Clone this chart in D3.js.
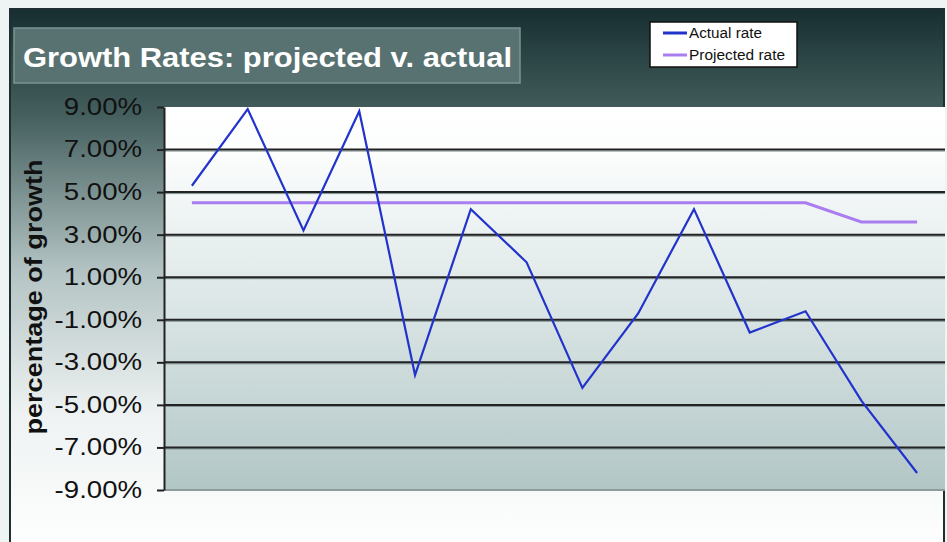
<!DOCTYPE html>
<html>
<head>
<meta charset="utf-8">
<script src="https://cdn.jsdelivr.net/npm/d3@7"></script>
<style>
  html, body { margin: 0; padding: 0; background: #fff; }
  svg { display: block; font-family: "Liberation Sans", Arial, sans-serif; }
</style>
</head>
<body>
<svg id="chart"></svg>
<script>
// data (percent growth per period)
var periods = [1, 2, 3, 4, 5, 6, 7, 8, 9, 10, 11, 12, 13, 14];
var actualRate = [5.3, 8.9, 3.2, 8.8, -3.6, 4.2, 1.7, -4.2, -0.7, 4.2, -1.6, -0.6, -4.8, -8.2];
var projectedRate = [4.5, 4.5, 4.5, 4.5, 4.5, 4.5, 4.5, 4.5, 4.5, 4.5, 4.5, 4.5, 3.6, 3.6];
var yTicks = [9, 7, 5, 3, 1, -1, -3, -5, -7, -9];
var seriesNames = ["Actual rate", "Projected rate"];
var seriesColors = ["#2233cc", "#a97ef0"];

var width = 947
  , height = 542
  , plot = { left: 164, top: 107, right: 945, bottom: 490 }
;

var svg = d3.select("#chart")
    .attr("width", width)
    .attr("height", height)
;

var defs = svg.append("defs");

var outerGrad = defs.append("linearGradient")
    .attr("id", "outerGrad")
    .attr("x1", 0).attr("y1", 0).attr("x2", 0).attr("y2", 1)
;
[[0, "#172e30"], [0.2, "#45605f"], [0.48, "#b2c2c2"], [0.75, "#eef2f2"], [1, "#ffffff"]]
    .forEach(function(s) {
        outerGrad.append("stop").attr("offset", s[0]).attr("stop-color", s[1]);
    })
;

var plotGrad = defs.append("linearGradient")
    .attr("id", "plotGrad")
    .attr("x1", 0).attr("y1", 0).attr("x2", 0).attr("y2", 1)
;
[[0, "#ffffff"], [0.12, "#fcfdfd"], [0.5, "#dde7e7"], [1, "#b2c6c6"]]
    .forEach(function(s) {
        plotGrad.append("stop").attr("offset", s[0]).attr("stop-color", s[1]);
    })
;

// outer frame
svg.append("rect")
    .attr("width", width).attr("height", height)
    .attr("fill", "#eef4f4")
;
svg.append("rect")
    .attr("x", 10).attr("y", 9)
    .attr("width", 934).attr("height", 540)
    .attr("fill", "url(#outerGrad)")
    .attr("stroke", "#1d2f30")
    .attr("stroke-width", 2)
;

// plot area
svg.append("rect")
    .attr("x", plot.left).attr("y", plot.top)
    .attr("width", plot.right - plot.left)
    .attr("height", plot.bottom - plot.top)
    .attr("fill", "url(#plotGrad)")
;

var x = d3.scalePoint()
    .domain(periods)
    .range([plot.left, plot.right])
    .padding(0.5)
;
var y = d3.scaleLinear()
    .domain([-9, 9])
    .range([plot.bottom, plot.top])
;

// gridlines
var grid = svg.append("g").attr("class", "grid");
grid.selectAll("line.shade")
    .data(yTicks.filter(function(d) { return d !== 9 && d !== -9; }))
  .enter().append("line")
    .attr("x1", plot.left).attr("x2", plot.right)
    .attr("y1", function(d) { return y(d) + 1.5; })
    .attr("y2", function(d) { return y(d) + 1.5; })
    .attr("stroke", "#7f9090")
    .attr("stroke-width", 1)
;
grid.selectAll("line.major")
    .data(yTicks.filter(function(d) { return d !== 9 && d !== -9; }))
  .enter().append("line")
    .attr("x1", plot.left).attr("x2", plot.right)
    .attr("y1", function(d) { return y(d); })
    .attr("y2", function(d) { return y(d); })
    .attr("stroke", "#222")
    .attr("stroke-width", 2)
;
svg.append("line")
    .attr("x1", plot.left).attr("x2", plot.right)
    .attr("y1", y(-9)).attr("y2", y(-9))
    .attr("stroke", "#8c9c9c")
    .attr("stroke-width", 2)
;

// y axis
var labelScale = 1.2;
var yAxis = svg.append("g")
    .attr("transform", "translate(" + plot.left + ",0)")
    .call(d3.axisLeft(y)
        .tickValues(yTicks)
        .tickSize(7)
        .tickSizeOuter(0)
        .tickFormat(function(d) { return d.toFixed(2) + "%"; }))
;
yAxis.select(".domain").attr("stroke", "#222").attr("stroke-width", 2);
yAxis.selectAll(".tick line").attr("stroke", "#222").attr("stroke-width", 2);
yAxis.selectAll(".tick text")
    .attr("x", -22 / labelScale)
    .attr("transform", "scale(" + labelScale + ",1)")
    .attr("fill", "#111")
    .style("font-size", "23px")
;

// y axis title
svg.append("text")
    .attr("transform", "translate(42,297) rotate(-90)")
    .attr("text-anchor", "middle")
    .attr("fill", "#111")
    .style("font-size", "24px")
    .style("font-weight", "bold")
    .attr("textLength", 275)
    .attr("lengthAdjust", "spacingAndGlyphs")
    .text("percentage of growth")
;

// series
var line = d3.line()
    .x(function(d, i) { return x(periods[i]); })
    .y(function(d) { return y(d); })
;
svg.append("path")
    .datum(projectedRate)
    .attr("d", line)
    .attr("fill", "none")
    .attr("stroke", seriesColors[1])
    .attr("stroke-width", 3)
;
svg.append("path")
    .datum(actualRate)
    .attr("d", line)
    .attr("fill", "none")
    .attr("stroke", seriesColors[0])
    .attr("stroke-width", 2.2)
    .attr("stroke-linejoin", "miter")
;

// title
svg.append("rect")
    .attr("x", 14).attr("y", 28)
    .attr("width", 506).attr("height", 55)
    .attr("fill", "#587272")
    .attr("stroke", "#7a9494")
    .attr("stroke-width", 1.5)
;
svg.append("text")
    .attr("x", 23).attr("y", 67)
    .attr("fill", "#fff")
    .style("font-size", "28px")
    .style("font-weight", "bold")
    .attr("textLength", 489)
    .attr("lengthAdjust", "spacingAndGlyphs")
    .text("Growth Rates: projected v. actual")
;

// legend
var legend = svg.append("g");
legend.append("rect")
    .attr("x", 650).attr("y", 22)
    .attr("width", 147).attr("height", 45)
    .attr("fill", "#fff")
    .attr("stroke", "#111")
    .attr("stroke-width", 1.5)
;
var legendLengths = [73, 96];
var item = legend.selectAll("g.item")
    .data(seriesNames)
  .enter().append("g")
    .attr("transform", function(d, i) { return "translate(0," + (33 + i * 22) + ")"; })
;
item.append("line")
    .attr("x1", 663).attr("x2", 687)
    .attr("stroke", function(d, i) { return seriesColors[i]; })
    .attr("stroke-width", 3)
;
item.append("text")
    .attr("x", 689).attr("y", 5)
    .attr("fill", "#111")
    .style("font-size", "14px")
    .attr("textLength", function(d, i) { return legendLengths[i]; })
    .attr("lengthAdjust", "spacingAndGlyphs")
    .text(function(d) { return d; })
;
</script>
</body>
</html>
